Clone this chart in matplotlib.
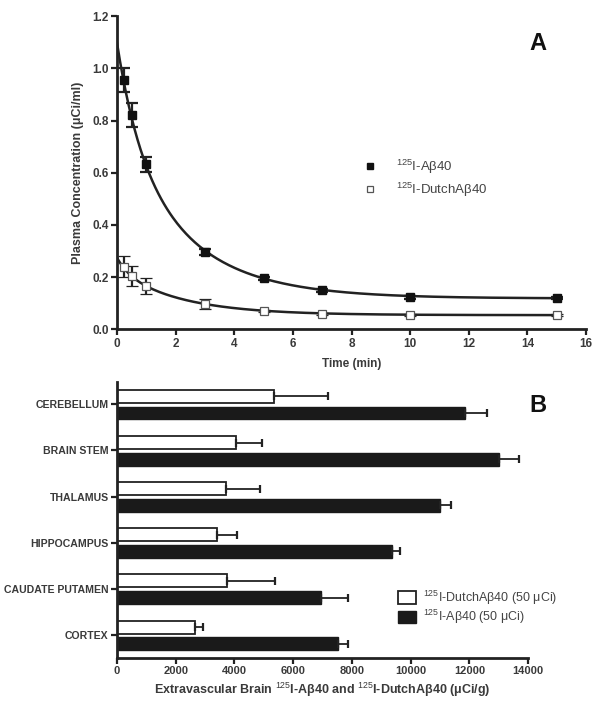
import matplotlib

matplotlib.use("Agg")
import matplotlib.pyplot as plt
import numpy as np

plt.rcParams["font.family"] = ["Liberation Sans", "DejaVu Sans"]
plt.rcParams["mathtext.fontset"] = "custom"
plt.rcParams["mathtext.rm"] = "Liberation Sans"
plt.rcParams["mathtext.bf"] = "Liberation Sans:bold"

INK = "#222222"
TXT = "#3a3a3a"

# panel A: plasma clearance
time_min = [0.25, 0.5, 1, 3, 5, 7, 10, 15]
ab40 = [0.955, 0.82, 0.632, 0.296, 0.195, 0.149, 0.122, 0.120]
ab40_err = [0.046, 0.046, 0.028, 0.012, 0.006, 0.006, 0.005, 0.005]
dutch = [0.240, 0.205, 0.166, 0.096, 0.070, 0.057, 0.055, 0.055]
dutch_err = [0.040, 0.038, 0.032, 0.019, 0.005, 0.004, 0.004, 0.004]

# biexponential fits: A, alpha, B, beta, plateau
fit_ab40 = (0.36, 1.28, 0.62, 0.42, 0.118)
fit_dutch = (0.05, 2.5, 0.17, 0.46, 0.054)

# panel B: extravascular brain uptake (bottom to top)
regions = ["CORTEX", "CAUDATE PUTAMEN", "HIPPOCAMPUS", "THALAMUS", "BRAIN STEM", "CEREBELLUM"]
dutch_b = [2640, 3760, 3400, 3700, 4040, 5340]
dutch_b_err = [290, 1610, 700, 1160, 910, 1840]
ab40_b = [7540, 6960, 9350, 11000, 13000, 11860]
ab40_b_err = [330, 900, 290, 380, 670, 750]


def biexp(t, p):
    a, al, b, be, c = p
    return a * np.exp(-al * t) + b * np.exp(-be * t) + c


def style_axes(ax):
    for s in ("top", "right"):
        ax.spines[s].set_visible(False)
    for s in ("left", "bottom"):
        ax.spines[s].set_linewidth(2.0)
        ax.spines[s].set_color(INK)
    ax.tick_params(direction="out", length=4, width=1.6, color=INK, labelcolor=TXT, labelsize=8.5, pad=2)
    for lab in ax.get_xticklabels() + ax.get_yticklabels():
        lab.set_fontweight("bold")


fig = plt.figure(figsize=(6.03, 7.02), dpi=100)

# ---- A ----
axA = fig.add_axes([0.194, 0.531, 0.778, 0.446])
tt = np.linspace(0, 15, 300)
axA.plot(tt, biexp(tt, fit_ab40), color=INK, lw=1.8, zorder=2)
axA.plot(tt, biexp(tt, fit_dutch), color=INK, lw=1.8, zorder=2)
axA.errorbar(time_min, ab40, yerr=ab40_err, fmt="s", ms=5.5, mfc="#111111", mec="#111111",
             ecolor=INK, elinewidth=1.6, capsize=4, capthick=1.6, zorder=3, label="$^{125}$I-Aβ40")
axA.errorbar(time_min, dutch, yerr=dutch_err, fmt="s", ms=5.5, mfc="white", mec="#555555", mew=0.9,
             ecolor=INK, elinewidth=1.6, capsize=4, capthick=1.6, zorder=3, label="$^{125}$I-DutchAβ40")
axA.set_xlim(0, 16)
axA.set_ylim(0, 1.2)
axA.set_xticks(np.arange(0, 17, 2))
axA.set_yticks(np.arange(0, 1.21, 0.2))
axA.set_yticklabels([f"{v:.1f}" for v in np.arange(0, 1.21, 0.2)])
style_axes(axA)
axA.set_xlabel("Time (min)", fontsize=8.5, fontweight="bold", color=TXT, labelpad=6)
axA.set_ylabel("Plasma Concentration (μCi/ml)", fontsize=9, fontweight="bold", color=TXT, labelpad=6)
hA, lA = axA.get_legend_handles_labels()
hA = [h[0] for h in hA]
axA.legend(hA, lA, loc="upper left", bbox_to_anchor=(0.5, 0.565), frameon=False, fontsize=9.5,
           labelcolor="#444444", handletextpad=1.0, borderaxespad=0, labelspacing=0.35,
           markerscale=0.85)
fig.text(0.892, 0.938, "A", fontsize=17, fontweight="bold", color="#111111", ha="center", va="center")

# ---- B ----
axB = fig.add_axes([0.194, 0.0627, 0.682, 0.393])
y = np.arange(len(regions))
h = 0.28
axB.barh(y + 0.17, dutch_b, height=h, color="white", edgecolor=INK, linewidth=1.3, zorder=2,
         label="$^{125}$I-DutchAβ40 (50 μCi)")
axB.barh(y - 0.19, ab40_b, height=h, color="#1a1a1a", edgecolor="#1a1a1a", linewidth=1.0, zorder=2,
         label="$^{125}$I-Aβ40 (50 μCi)")
axB.errorbar(dutch_b, y + 0.17, xerr=[np.zeros(len(y)), dutch_b_err], fmt="none", ecolor=INK,
             elinewidth=1.3, capsize=3, capthick=1.6, zorder=3)
axB.errorbar(ab40_b, y - 0.19, xerr=[np.zeros(len(y)), ab40_b_err], fmt="none", ecolor=INK,
             elinewidth=1.3, capsize=3, capthick=1.6, zorder=3)
axB.set_xlim(0, 14000)
axB.set_ylim(-0.5, 5.48)
axB.set_xticks(np.arange(0, 14001, 2000))
axB.set_yticks(y)
axB.set_yticklabels(regions)
style_axes(axB)
axB.tick_params(axis="y", labelsize=7.6)
axB.tick_params(axis="x", labelsize=8)
axB.set_xlabel("Extravascular Brain $^{125}$I-Aβ40 and $^{125}$I-DutchAβ40 (μCi/g)", fontsize=9,
               fontweight="bold", color=TXT, labelpad=3)
axB.legend(loc="upper left", bbox_to_anchor=(0.67, 0.27), frameon=False, fontsize=9,
           labelcolor="#444444", handlelength=1.5, handleheight=1.2, handletextpad=0.5,
           borderaxespad=0, labelspacing=0.1)
fig.text(0.892, 0.423, "B", fontsize=17, fontweight="bold", color="#111111", ha="center", va="center")

fig.savefig("out.png", dpi=100)
